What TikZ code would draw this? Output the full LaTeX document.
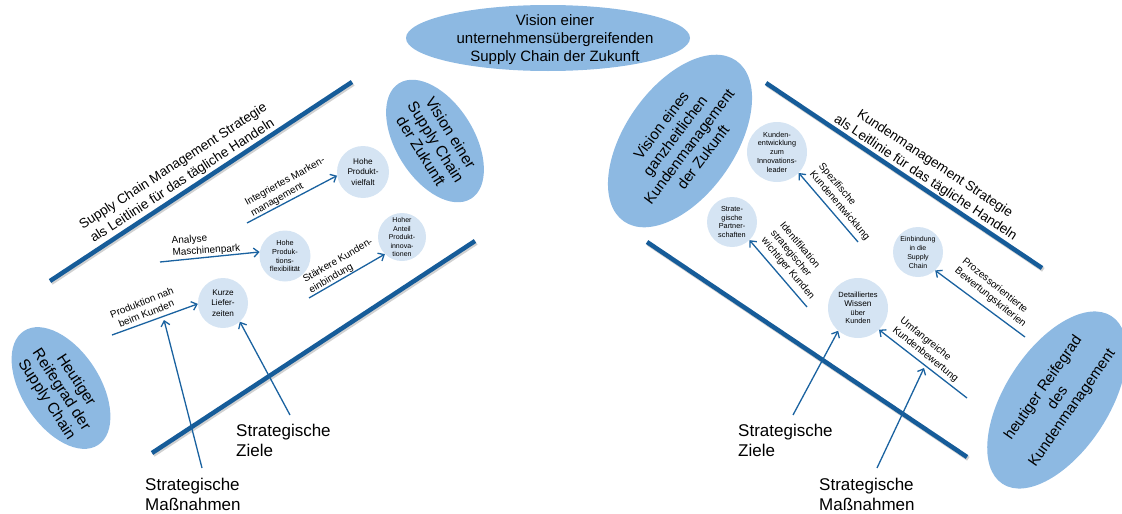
\documentclass[tikz,border=0pt]{standalone}
\usepackage{fontspec}
\setmainfont{Liberation Sans}
\usetikzlibrary{shapes.geometric,arrows.meta}

\definecolor{ellfill}{RGB}{141,185,226}
\definecolor{circfill}{RGB}{213,228,243}
\definecolor{lineblue}{RGB}{22,92,153}
\definecolor{arrowblue}{RGB}{26,98,160}

\tikzset{
  visionshape/.style={ellipse, fill=ellfill, inner sep=0pt},
  visiontext/.style={align=center, inner sep=0pt, font=\fontsize{15.5}{17.5}\selectfont},
  goal/.style={circle, fill=circfill, inner sep=0pt, align=center, font=\fontsize{7.3}{8.8}\selectfont},
  spine/.style={line width=4.5pt, draw=lineblue},
  spineshadow/.style={line width=4.5pt, draw=black, opacity=0.18},
  measure/.style={draw=arrowblue, line width=1.3pt, -{Straight Barb[length=5pt,width=9pt]}},
  mlabel/.style={font=\fontsize{10}{12}\selectfont, align=left, inner sep=0pt},
  biglabel/.style={font=\fontsize{17}{20}\selectfont, align=left, inner sep=0pt, anchor=north west},
  headline/.style={font=\fontsize{13.5}{17}\selectfont, align=center, inner sep=0pt},
}

\begin{document}
\begin{tikzpicture}[x=1pt,y=-1pt]
\useasboundingbox (0,0) rectangle (1122,514);

% ---------- spines ----------
\coordinate (sl1a) at (50,281);  \coordinate (sl1b) at (352,82);
\coordinate (sl2a) at (152,453); \coordinate (sl2b) at (475,241);
\coordinate (sr1a) at (766,83);  \coordinate (sr1b) at (1042,268);
\coordinate (sr2a) at (647,242); \coordinate (sr2b) at (967,457);
\foreach \a/\b in {sl1a/sl1b, sl2a/sl2b, sr1a/sr1b, sr2a/sr2b}{
  \draw[spineshadow] ([shift={(1.3,1.8)}]\a) -- ([shift={(1.3,1.8)}]\b);
  \draw[spine] (\a) -- (\b);
}

% ---------- vision / maturity ellipses ----------
\node[visionshape, minimum width=284pt, minimum height=66pt] (e0) at (548,38) {};
\node[visiontext, font=\fontsize{15}{18}\selectfont] (e0t) at (555,40)
  {Vision einer\\unternehmensübergreifenden\\Supply Chain der Zukunft};

\node[visionshape, minimum width=136pt, minimum height=78pt, rotate=-58] (e1) at (435,141) {};
\node[visiontext, rotate=-58] (e1t) at (436,142) {Vision einer\\Supply Chain\\der Zukunft};

\node[visionshape, minimum width=136pt, minimum height=78pt, rotate=-57] (e2) at (61,388) {};
\node[visiontext, rotate=-57] (e2t) at (61,390) {Heutiger\\Reifegrad der\\Supply Chain};

\node[visionshape, minimum width=196pt, minimum height=110pt, rotate=55] (e3) at (680,141) {};
\node[visiontext, font=\fontsize{15}{17.5}\selectfont, rotate=53] (e3t) at (682,141)
  {Vision eines\\ganzheitlichen\\Kundenmanagement\\der Zukunft};

\node[visionshape, minimum width=200pt, minimum height=104pt, rotate=57] (e4) at (1057,400) {};
\node[visiontext, font=\fontsize{15}{17.5}\selectfont, rotate=55] (e4t) at (1058,398)
  {heutiger Reifegrad\\des\\Kundenmanagement};

% ---------- goals (left) ----------
\node[goal, minimum size=52pt, font=\fontsize{8.2}{10.5}\selectfont] (hpv) at (363,172) {Hohe\\Produkt-\\vielfalt};
\node[goal, minimum size=48pt, font=\fontsize{7}{8.5}\selectfont] (hap) at (402,237) {Hoher\\Anteil\\Produkt-\\innova-\\tionen};
\node[goal, minimum size=51pt] (hpf) at (285,256) {Hohe\\Produk-\\tions-\\flexibilität};
\node[goal, minimum size=50pt, font=\fontsize{8.2}{10.5}\selectfont] (klz) at (223,303) {Kurze\\Liefer-\\zeiten};

% ---------- goals (right) ----------
\node[goal, minimum size=60pt] (kez) at (777,152) {Kunden-\\entwicklung\\zum\\Innovations-\\leader};
\node[goal, minimum size=50pt] (spa) at (732,222) {Strate-\\gische\\Partner-\\schaften};
\node[goal, minimum size=50pt, font=\fontsize{7}{9}\selectfont] (eis) at (918,252) {Einbindung\\in die\\Supply\\Chain};
\node[goal, minimum size=60pt] (dwk) at (858,308) {\fontsize{7.5}{10}\selectfont Detailliertes\\\fontsize{8.3}{10}\selectfont Wissen\\über\\Kunden};

% ---------- headlines along the upper spines ----------
\node[headline, rotate=33] (hL) at (178,174) {Supply Chain Management Strategie\\als Leitlinie für das tägliche Handeln};
\node[headline, rotate=-33.5] (hR) at (930,171) {Kundenmanagement Strategie\\als Leitlinie für das tägliche Handeln};

% ---------- measures (left) ----------
\coordinate (pL1) at (247,223);
\draw[measure] (pL1) -- (hpv.188);
\node[mlabel, rotate=29] (tL1) at (288,187) {Integriertes Marken-\\management};

\coordinate (pL2) at (160,262);
\draw[measure] (pL2) -- (hpf.171);
\node[mlabel, rotate=4] (tL2) at (206,245) {Analyse\\Maschinenpark};

\coordinate (pL3) at (309,298);
\draw[measure] (pL3) -- (hap.225);
\node[mlabel, rotate=30] (tL3) at (341,266) {Stärkere Kunden-\\einbindung};

\coordinate (pL4) at (112,335);
\draw[measure] (pL4) -- (klz.182);
\node[mlabel, align=center, rotate=22] (tL4) at (144,308) {Produktion nah\\beim Kunden};

% ---------- measures (right) ----------
\coordinate (pR1) at (858,242);
\draw[measure] (pR1) -- (kez.316);
\node[mlabel, rotate=-49.5] (tR1) at (844,202) {Spezifische\\Kundenentwicklung};

\coordinate (pR2) at (807,307);
\draw[measure] (pR2) -- (spa.314);
\node[mlabel, rotate=-50] (tR2) at (797,261) {Identifikation\\strategischer\\wichtiger Kunden};

\coordinate (pR3) at (1025,337);
\draw[measure] (pR3) -- (eis.313);
\node[mlabel, rotate=-39] (tR3) at (994,293) {Prozessorientierte\\Bewertungskriterien};

\coordinate (pR4) at (967,398);
\draw[measure] (pR4) -- (dwk.314);
\node[mlabel, rotate=-39] (tR4) at (929,350) {Umfangreiche\\Kundenbewertung};

% ---------- legend labels with pointers ----------
\node[biglabel] (zielL) at (236,424) {Strategische\\Ziele};
\node[biglabel] (massL) at (145,478) {Strategische\\Maßnahmen};
\coordinate (zL) at (290,415);
\draw[measure] (zL) -- (klz.312);
\coordinate (mL) at (202,468); \coordinate (mLtip) at (164,320);
\draw[measure] (mL) -- (mLtip);

\node[biglabel] (zielR) at (738,424) {Strategische\\Ziele};
\node[biglabel] (massR) at (819,478) {Strategische\\Maßnahmen};
\coordinate (zR) at (793,415);
\draw[measure] (zR) -- (dwk.229);
\coordinate (mR) at (877,468); \coordinate (mRtip) at (924,368);
\draw[measure] (mR) -- (mRtip);

\end{tikzpicture}
\end{document}
